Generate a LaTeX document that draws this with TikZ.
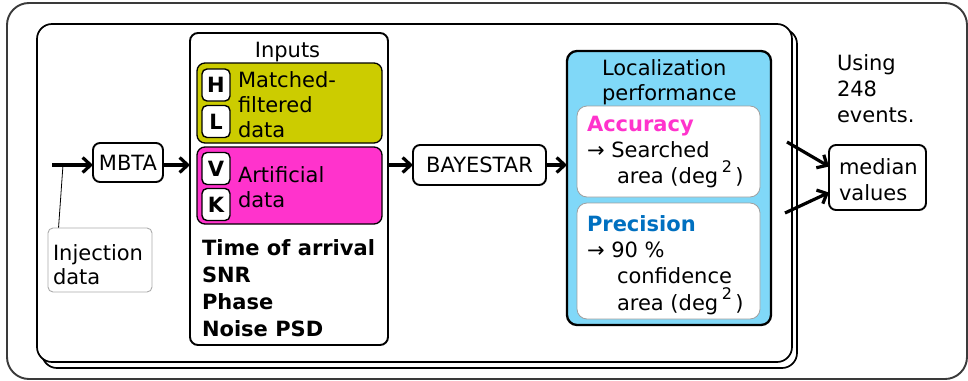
\documentclass[tikz,border=0pt]{standalone}
\usepackage{fontspec}
\setmainfont{DejaVu Sans}
\usetikzlibrary{arrows.meta,calc}

\definecolor{olivefill}{HTML}{CCCC00}
\definecolor{pinkfill}{HTML}{FF33CC}
\definecolor{skyfill}{HTML}{80D8F8}
\definecolor{precblue}{HTML}{0070C0}
\definecolor{framegray}{HTML}{3A3A3A}

% raised exponent for the area unit
\newcommand{\sqdeg}{deg\,\raisebox{0.5em}{\fontsize{16}{16}\selectfont 2}\,}

\begin{document}
\begin{tikzpicture}[x=1pt,y=-1pt,
  every node/.style={font=\fontsize{21}{26}\selectfont},
  frame/.style={draw=black, line width=1.7, fill=white, rounded corners=15, inner sep=0, outer sep=0},
  panel/.style={draw=black, line width=1.9, rounded corners=8, inner sep=0, outer sep=0},
  tag/.style={draw=black, line width=1.4, fill=white, rounded corners=5, minimum width=28,
    minimum height=32, inner sep=0, outer sep=0, font=\bfseries\fontsize{21}{26}\selectfont},
  procbox/.style={draw=black, line width=1.9, fill=white, rounded corners=7, inner sep=0, outer sep=0},
  card/.style={draw=gray!75, line width=0.8, fill=white, rounded corners=10, inner sep=0, outer sep=0},
  % multi-line text: the base anchor sits on the baseline of the last line
  txt/.style={anchor=base west, align=left, inner sep=0, outer sep=0},
  flow/.style={line width=3.2, -{Straight Barb[length=8pt,width=15pt]}},
]
\fill[white] (0,0) rectangle (968,380);
\useasboundingbox (0,0) rectangle (968,380);

% outer frame and the stacked pair of frames
\node[draw=framegray, line width=1.9, rounded corners=22, minimum width=960, minimum height=376,
  inner sep=0] (outer) at (487,191) {};
\node[frame, minimum width=755, minimum height=339] (back) at (419.5,198.5) {};
\node[frame, minimum width=755, minimum height=338] (front) at (414.5,193) {};

% injection data and MBTA
\node[draw=gray!65, line width=0.9, rounded corners=5, fill=white, minimum width=104,
  minimum height=64, inner sep=0] (inj) at (100,260) {};
\node[txt, font=\fontsize{21}{24}\selectfont] (injtxt) at (53,284) {Injection\\data};
\node[procbox, minimum width=70, minimum height=39] (mbta) at (128,162.5) {MBTA};
\coordinate (start) at (52,165);
\coordinate (tap) at (63,165);

% inputs panel
\node[panel, fill=white, minimum width=198, minimum height=312] (inputs) at (289,189) {};
\node[anchor=base, inner sep=0] (inhead) at (287.5,57) {Inputs};
\node[panel, line width=1.3, fill=olivefill, minimum width=185, minimum height=80] (mf) at (289.5,103) {};
\node[panel, line width=1.3, fill=pinkfill, minimum width=185, minimum height=77] (art) at (289.5,185.5) {};
\node[tag] (H) at (216,85) {H};
\node[tag] (L) at (216,121.5) {L};
\node[tag] (V) at (216,168.5) {V};
\node[tag] (K) at (216,204.5) {K};
\node[txt, font=\fontsize{21}{25}\selectfont] (mftxt) at (238,137) {Matched-\\filtered\\data};
\node[txt, font=\fontsize{21}{25}\selectfont] (arttxt) at (238,207) {Artificial\\data};
\node[txt, font=\bfseries\fontsize{21}{27}\selectfont] (params) at (202,336)
  {Time of arrival\\SNR\\Phase\\Noise PSD};

% BAYESTAR
\node[procbox, minimum width=133, minimum height=40] (bayes) at (479.5,165) {BAYESTAR};

% localization performance panel
\node[panel, line width=2.3, rounded corners=10, fill=skyfill, minimum width=204, minimum height=274] (loc) at (669,188) {};
\node[txt, font=\fontsize{21}{25}\selectfont] (lochead) at (602,100) {Localization\\performance};
\node[card, minimum width=183, minimum height=91] (acc) at (668.5,151.5) {};
\node[card, minimum width=183, minimum height=116] (prec) at (668.5,261) {};
\node[txt] (acctxt) at (587,183)
  {\textbf{\textcolor{pinkfill}{Accuracy}}\\→ Searched\\\hspace*{30pt}area (\sqdeg)};
\node[txt, font=\fontsize{21}{26.3}\selectfont] (prectxt) at (587,310)
  {\textbf{\textcolor{precblue}{Precision}}\\→ 90 \%\\\hspace*{30pt}confidence\\\hspace*{30pt}area (\sqdeg)};

% summary
\node[txt] (using) at (837,122) {Using\\248\\events.};
\node[procbox, minimum width=97, minimum height=65] (median) at (877.5,177.5) {};
\node[txt] (medtxt) at (839,200) {median\\values};
\coordinate (up) at (787,142);
\coordinate (down) at (785,213);

% connectors
\draw[line width=0.8] (tap) -- ([xshift=11pt]inj.north west);
\draw[flow] (start) -- (start -| mbta.west);
\draw[flow] (start -| mbta.east) -- (start -| inputs.west);
\draw[flow] (bayes.west -| inputs.east) -- (bayes.west);
\draw[flow] (bayes.east) -- (bayes.east -| loc.west);
\draw[flow] (up) -- ($(median.west)+(0,-11)$);
\draw[flow] (down) -- ($(median.west)+(0,15)$);
\end{tikzpicture}
\end{document}
